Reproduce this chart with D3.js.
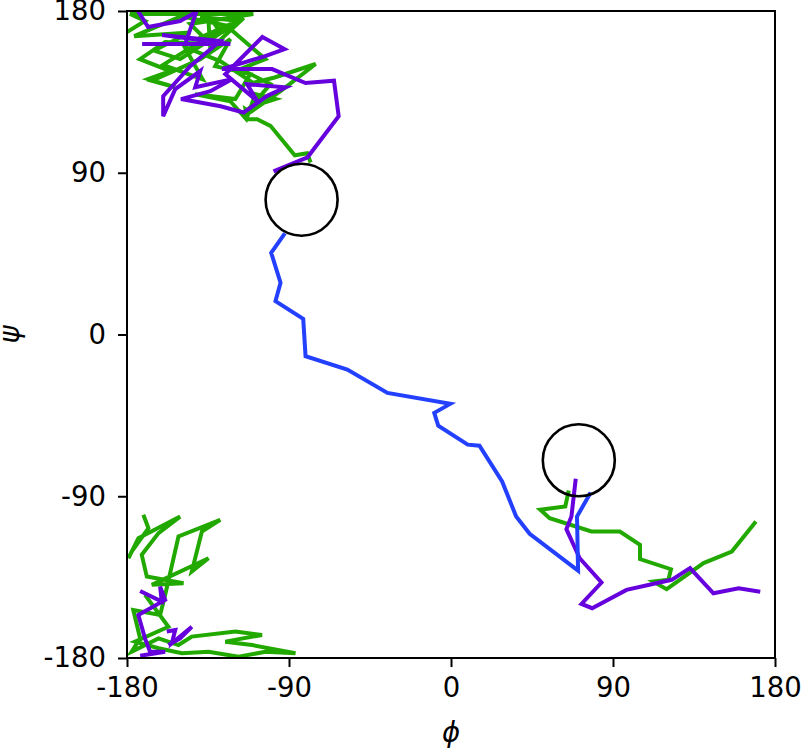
<!DOCTYPE html>
<html>
<head>
<meta charset="utf-8">
<script src="https://cdn.jsdelivr.net/npm/d3@7"></script>
<style>
  body { margin: 0; background: #fff; }
  text { font-family: "DejaVu Sans", sans-serif; }
</style>
</head>
<body>
<div id="chart"></div>
<script>
// Ramachandran-style trajectory plot (phi / psi)

var svgWidth = 801;
var svgHeight = 749;

var margin = { top: 11, right: 26, bottom: 91, left: 127 };
var width = svgWidth - margin.left - margin.right;
var height = svgHeight - margin.top - margin.bottom;

// tick values
var tickValues = [-180, -90, 0, 90, 180];

// circles marking the two basins [phi, psi, radius]
var basins = [[-83, 75, 20], [71, -70, 20]];

// blue trajectory
var bluePath = [[-92.3, 56.3], [-99.9, 45.5], [-94.7, 28.8], [-97.5, 18.6], [-82.1, 8.7], [-80.8, -12.1],
  [-57.6, -19.5], [-35.3, -32.5], [-0.4, -38.6], [-9.3, -43.6], [-7.1, -50.7], [9.3, -61.3],
  [15.8, -61.9], [28.4, -81.8], [36.2, -101.3], [43.7, -110.9], [70.6, -131.4], [70, -101.3], [77.6, -87.9]];

// green trajectory pieces
var greenTop = [[-180, 168.3], [-170, 174.4], [-178.3, 178.3], [-109.8, 178.3], [-144.9, 172.8], [-133.7, 161.6],
  [-158.8, 162.7], [-172.8, 153.2], [-156, 146.6], [-168.3, 142.1], [-153.2, 137.6], [-166.1, 141.2],
  [-139.3, 153.2], [-122.6, 164.4], [-131, 149.3], [-111.5, 144.9], [-119.8, 131], [-142.1, 133.7],
  [-122.6, 129.8], [-113.7, 119.8], [-108.7, 133.7], [-97.5, 131], [-111.5, 126.5], [-100.3, 139.3],
  [-117, 147.7], [-103.1, 153.2], [-122.6, 170], [-139.3, 176.7], [-117, 174.4], [-133.7, 158.8],
  [-135, 178], [-128, 168], [-140, 165], [-115, 176], [-150.5, 153.2], [-165, 158], [-145, 168],
  [-176, 166], [-150, 177], [-125, 172], [-160, 150], [-138, 142], [-148, 160], [-128, 152],
  [-110, 140], [-98, 143], [-75.2, 150.5], [-94.7, 135.4], [-111.5, 123.7], [-114.2, 125.4], [-113.3, 119.8],
  [-107.7, 119.8], [-100.3, 116.1], [-86.8, 99.7], [-79.9, 100.9], [-78, 95.7]];

var greenBottom = [[-170.9, -100.3], [-168.1, -107.8], [-177.4, -120.8], [-179.2, -124.5], [-173.7, -113.3],
  [-150.5, -101.3], [-162.5, -110.5], [-171.8, -122.6], [-169, -134.7], [-148.6, -138.4], [-166.2, -139.3],
  [-134.7, -124.5], [-144, -131.9], [-138.4, -109.6], [-128.2, -103.1], [-151.4, -112.4], [-158.8, -144.9],
  [-161.6, -156.1], [-176.5, -153.3], [-172.7, -169.1], [-177.4, -176.5], [-162.5, -169.1], [-151.4, -172.8],
  [-144, -168.1], [-119.8, -165.3], [-105, -167.2], [-125.4, -170.9], [-110.5, -172.8], [-86.4, -177.4],
  [-103.1, -176.5], [-118, -179.3], [-134.7, -176.5], [-149.5, -177.4], [-162.5, -174.6], [-175.5, -170.9],
  [-157, -162.6], [-170, -144.9]];

var greenRight = [[65.4, -86.8], [63.5, -95.7], [49.6, -97.5], [54.8, -102.2], [78, -109.6], [93.8, -109.6],
  [105, -117], [105, -125], [122.2, -130.6], [120.8, -136.5], [112.4, -137.5], [119.8, -141.7],
  [140.3, -127.2], [156, -120.8], [169.4, -104]];

// purple trajectory pieces
var purpleTop = [[-173.9, 180], [-168.3, 171.1], [-150.5, 174.4], [-141.5, 179.5], [-147.7, 161.6],
  [-171.6, 161.6], [-122.6, 161.6], [-160.5, 166.6], [-128.2, 163.3], [-144.9, 149.3], [-159.9, 132.6],
  [-159.9, 121.5], [-153.2, 136.5], [-139.3, 146.6], [-142.1, 137.6], [-121.5, 142.1], [-133.7, 135.4],
  [-150, 131], [-128, 127], [-115.2, 123.5], [-102.1, 132.8], [-91.9, 137.5], [-113.3, 139.3],
  [-107.7, 130], [-125.4, 144.9], [-104.8, 165.5], [-92.5, 158.8], [-104.8, 154.4], [-127.2, 147.7],
  [-99.4, 147.7], [-80.8, 139.9], [-65, 141.2], [-62.4, 121.5], [-79.7, 98.6], [-98.6, 90.8]];

var purpleBottomA = [[-172.7, -142.7], [-160.7, -148.6], [-161.6, -140.3], [-158.8, -147.7], [-173.7, -156.1],
  [-170, -169.1], [-167.2, -176.5], [-158.8, -176.5], [-172.7, -178.7]];

var purpleBottomB = [[-157.9, -165.3], [-153.2, -164.4], [-155.1, -171.8], [-144, -162.6], [-150.5, -169.1],
  [-157, -172.8]];

var purpleRight = [[69.3, -80.3], [66.9, -101.3], [64.1, -108.3], [71.5, -124.5], [83.6, -138], [72.5, -149.9],
  [78.4, -152.3], [97.5, -142.1], [122.6, -136.5], [132.8, -130], [145.8, -144], [159.8, -141.2], [171.8, -143.1]];

var colors = { blue: "#2340ff", green: "#22a900", purple: "#6600dd" };

var svg = d3.select("#chart")
  .append("svg")
  .attr("width", svgWidth)
  .attr("height", svgHeight);

var chartGroup = svg.append("g")
  .attr("transform", `translate(${margin.left}, ${margin.top})`);

var xScale = d3.scaleLinear().domain([-180, 180]).range([0, width]);
var yScale = d3.scaleLinear().domain([-180, 180]).range([height, 0]);

chartGroup.append("clipPath")
  .attr("id", "clip")
  .append("rect")
  .attr("width", width)
  .attr("height", height);

var line = d3.line()
  .x(d => xScale(d[0]))
  .y(d => yScale(d[1]));

var plotArea = chartGroup.append("g").attr("clip-path", "url(#clip)");

// order of drawing: green, purple, blue
var traces = [
  [greenTop, colors.green], [greenBottom, colors.green], [greenRight, colors.green],
  [purpleTop, colors.purple], [purpleBottomA, colors.purple], [purpleBottomB, colors.purple],
  [purpleRight, colors.purple], [bluePath, colors.blue]
];

traces.forEach(function(t) {
  plotArea.append("path")
    .datum(t[0])
    .attr("d", line)
    .attr("fill", "none")
    .attr("stroke", t[1])
    .attr("stroke-width", 4)
    .attr("stroke-linejoin", "miter")
    .attr("stroke-miterlimit", 4);
});

plotArea.selectAll("circle.basin")
  .data(basins)
  .enter()
  .append("circle")
  .attr("class", "basin")
  .attr("cx", d => xScale(d[0]))
  .attr("cy", d => yScale(d[1]))
  .attr("r", d => xScale(d[2]) - xScale(0))
  .attr("fill", "none")
  .attr("stroke", "#000")
  .attr("stroke-width", 2.6);

// axes
var bottomAxis = d3.axisBottom(xScale)
  .tickValues(tickValues)
  .tickSize(9)
  .tickPadding(10)
  .tickFormat(d => String(d));

var leftAxis = d3.axisLeft(yScale)
  .tickValues(tickValues)
  .tickSize(9)
  .tickPadding(12)
  .tickFormat(d => String(d));

var xAxis = chartGroup.append("g")
  .attr("transform", `translate(0, ${height})`)
  .call(bottomAxis);

var yAxis = chartGroup.append("g")
  .call(leftAxis);

[xAxis, yAxis].forEach(function(ax) {
  ax.select(".domain").remove();
  ax.selectAll("line").attr("stroke", "#000").attr("stroke-width", 2);
  ax.selectAll("text")
    .attr("fill", "#000")
    .style("font-family", "DejaVu Sans")
    .style("font-size", "27.5px");
});

// frame
chartGroup.append("rect")
  .attr("width", width)
  .attr("height", height)
  .attr("fill", "none")
  .attr("stroke", "#000")
  .attr("stroke-width", 2);

// axis labels
chartGroup.append("text")
  .attr("x", width / 2)
  .attr("y", height + 84)
  .attr("text-anchor", "middle")
  .style("font-size", "27.5px")
  .style("font-style", "italic")
  .text("\u03d5");

chartGroup.append("text")
  .attr("transform", `translate(${19 - margin.left}, ${height / 2}) rotate(-90)`)
  .attr("text-anchor", "middle")
  .style("font-size", "27.5px")
  .style("font-style", "italic")
  .text("\u03c8");
</script>
</body>
</html>
